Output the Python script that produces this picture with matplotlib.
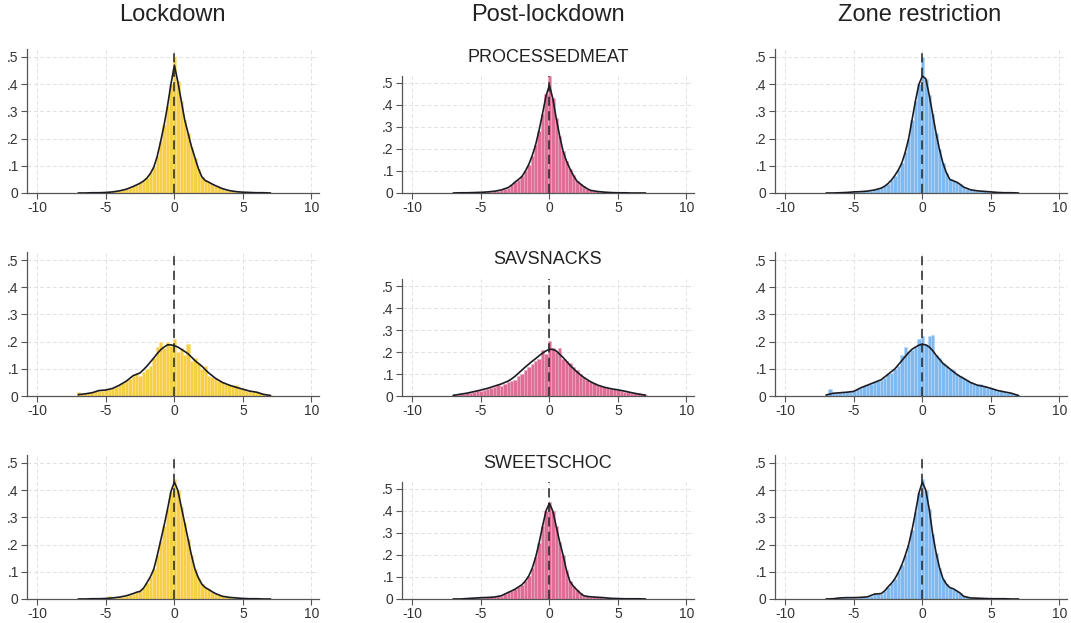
import numpy as np
import matplotlib.pyplot as plt

plt.rcParams['font.family'] = ['Liberation Sans', 'DejaVu Sans']

periods = ['Lockdown', 'Post-lockdown', 'Zone restriction']
products = ['PROCESSEDMEAT', 'SAVSNACKS', 'SWEETSCHOC']
fills = ['#f6cf45', '#dd6f96', '#7fb9f0']
edges = ['#fbe391', '#eeaac2', '#b8d8f7']

# histogram bins: 0.25 wide, centred on -7, -6.75, ..., 7
bin_mid = np.linspace(-7, 7, 57)
# density curve: every 0.5 in the tails, every 0.25 between -3 and 3
curve_x = np.concatenate([np.linspace(-7, -3.5, 8), np.linspace(-3, 3, 25), np.linspace(3.5, 7, 8)])

# ---- PROCESSEDMEAT ----
meat_lock_bars = [0, 0, 0, 0.001, 0.001, 0.001, 0.001, 0.002, 0.002, 0.003, 0.004, 0.006, 0.008, 0.011, 0.014, 0.019, 0.024,
                  0.03, 0.036, 0.044, 0.055, 0.072, 0.095, 0.135, 0.19, 0.25, 0.32, 0.40,
                  0.50,
                  0.41, 0.34, 0.27, 0.22, 0.17, 0.13, 0.09, 0.06, 0.046, 0.04, 0.033,
                  0.027, 0.021, 0.016, 0.012, 0.009, 0.007, 0.005, 0.004, 0.003, 0.002, 0.002, 0.001, 0.001, 0.001, 0.001, 0, 0]
meat_lock_curve = [0, 0, 0.001, 0.001, 0.002, 0.004, 0.008, 0.014,
                   0.024, 0.03, 0.036, 0.044, 0.055, 0.072, 0.095, 0.135, 0.19, 0.25, 0.32, 0.40, 0.47,
                   0.41, 0.34, 0.27, 0.22, 0.17, 0.13, 0.09, 0.06, 0.046, 0.04, 0.033, 0.027,
                   0.016, 0.009, 0.005, 0.003, 0.002, 0.001, 0.001, 0]

meat_post_bars = [0, 0, 0.001, 0.001, 0.001, 0.001, 0.002, 0.002, 0.003, 0.004, 0.005, 0.006, 0.008, 0.011, 0.014, 0.019, 0.025,
                  0.035, 0.05, 0.06, 0.076, 0.1, 0.128, 0.17, 0.22, 0.28, 0.36, 0.45,
                  0.53,
                  0.43, 0.34, 0.26, 0.19, 0.145, 0.11, 0.08, 0.055, 0.042, 0.03, 0.02,
                  0.012, 0.009, 0.007, 0.005, 0.004, 0.003, 0.002, 0.001, 0.001, 0.001, 0.001, 0, 0, 0, 0, 0, 0]
meat_post_curve = [0, 0.001, 0.001, 0.002, 0.003, 0.005, 0.008, 0.014,
                   0.025, 0.036, 0.05, 0.062, 0.075, 0.1, 0.13, 0.17, 0.22, 0.285, 0.36, 0.44, 0.49,
                   0.43, 0.34, 0.26, 0.19, 0.145, 0.11, 0.08, 0.055, 0.042, 0.03, 0.02, 0.012,
                   0.007, 0.004, 0.002, 0.001, 0.001, 0, 0, 0]

meat_zone_bars = [0, 0, 0, 0.001, 0.001, 0.002, 0.002, 0.003, 0.004, 0.005, 0.005, 0.006, 0.007, 0.009, 0.011, 0.014, 0.018,
                  0.025, 0.034, 0.047, 0.064, 0.084, 0.11, 0.15, 0.2, 0.27, 0.34, 0.40,
                  0.50,
                  0.42, 0.36, 0.29, 0.22, 0.16, 0.11, 0.075, 0.05, 0.045, 0.04, 0.032,
                  0.022, 0.016, 0.012, 0.01, 0.008, 0.007, 0.006, 0.005, 0.004, 0.003, 0.002, 0.001, 0.001, 0.001, 0.001, 0, 0]
meat_zone_curve = [0, 0, 0.001, 0.002, 0.004, 0.005, 0.007, 0.011,
                   0.018, 0.025, 0.035, 0.048, 0.065, 0.085, 0.11, 0.15, 0.2, 0.27, 0.34, 0.40, 0.43,
                   0.42, 0.36, 0.29, 0.22, 0.16, 0.11, 0.075, 0.05, 0.045, 0.04, 0.032, 0.022,
                   0.012, 0.008, 0.006, 0.004, 0.002, 0.001, 0.001, 0]

# ---- SAVSNACKS ----
snack_lock_bars = [0.015, 0.008, 0.01, 0.012, 0.013, 0.018, 0.02, 0.019, 0.022, 0.025, 0.028, 0.034, 0.04, 0.048, 0.055, 0.062, 0.072,
                   0.08, 0.072, 0.09, 0.1, 0.11, 0.14, 0.18, 0.2, 0.175, 0.2, 0.185,
                   0.21,
                   0.16, 0.175, 0.15, 0.19, 0.13, 0.14, 0.12, 0.1, 0.11, 0.075, 0.07,
                   0.065, 0.055, 0.05, 0.045, 0.04, 0.035, 0.04, 0.03, 0.025, 0.02, 0.02, 0.015, 0.013, 0.01, 0.006, 0.004, 0.002]
snack_lock_curve = [0.005, 0.008, 0.012, 0.02, 0.022, 0.028, 0.04, 0.055,
                    0.075, 0.08, 0.085, 0.097, 0.11, 0.125, 0.14, 0.156, 0.17, 0.18, 0.188, 0.188, 0.185,
                    0.18, 0.172, 0.164, 0.155, 0.143, 0.13, 0.12, 0.11, 0.097, 0.085, 0.075, 0.065,
                    0.05, 0.04, 0.032, 0.025, 0.018, 0.014, 0.006, 0.002]

snack_post_bars = [0.005, 0.006, 0.008, 0.01, 0.012, 0.015, 0.018, 0.022, 0.025, 0.028, 0.032, 0.035, 0.04, 0.05, 0.045, 0.055, 0.062,
                   0.07, 0.075, 0.09, 0.1, 0.12, 0.13, 0.145, 0.16, 0.17, 0.21, 0.19,
                   0.25,
                   0.22, 0.2, 0.22, 0.17, 0.16, 0.15, 0.13, 0.12, 0.1, 0.085, 0.075,
                   0.065, 0.06, 0.05, 0.045, 0.04, 0.035, 0.033, 0.03, 0.028, 0.025, 0.02, 0.018, 0.015, 0.012, 0.015, 0.008, 0.004]
snack_post_curve = [0.003, 0.008, 0.013, 0.02, 0.027, 0.035, 0.045, 0.055,
                    0.068, 0.078, 0.09, 0.104, 0.118, 0.132, 0.145, 0.158, 0.17, 0.183, 0.195, 0.205, 0.212,
                    0.212, 0.205, 0.19, 0.175, 0.158, 0.14, 0.125, 0.11, 0.097, 0.085, 0.075, 0.065,
                    0.05, 0.04, 0.033, 0.028, 0.022, 0.015, 0.009, 0.004]

snack_zone_bars = [0.008, 0.025, 0.012, 0.012, 0.012, 0.013, 0.014, 0.016, 0.018, 0.025, 0.03, 0.035, 0.04, 0.045, 0.05, 0.055, 0.06,
                   0.068, 0.08, 0.085, 0.1, 0.11, 0.15, 0.18, 0.16, 0.17, 0.18, 0.21,
                   0.22,
                   0.19, 0.22, 0.225, 0.15, 0.14, 0.12, 0.11, 0.1, 0.095, 0.08, 0.075,
                   0.065, 0.06, 0.05, 0.045, 0.04, 0.045, 0.035, 0.03, 0.03, 0.025, 0.02, 0.018, 0.015, 0.012, 0.01, 0.008, 0.005]
snack_zone_curve = [0.004, 0.01, 0.012, 0.014, 0.017, 0.03, 0.04, 0.05,
                    0.06, 0.07, 0.08, 0.09, 0.1, 0.115, 0.13, 0.145, 0.16, 0.172, 0.18, 0.187, 0.19,
                    0.188, 0.18, 0.167, 0.15, 0.135, 0.12, 0.11, 0.1, 0.09, 0.08, 0.072, 0.065,
                    0.05, 0.04, 0.035, 0.028, 0.02, 0.015, 0.01, 0.002]

# ---- SWEETSCHOC ----
sweet_lock_bars = [0, 0, 0, 0, 0.001, 0.001, 0.001, 0.001, 0.002, 0.01, 0.004, 0.005, 0.007, 0.009, 0.012, 0.016, 0.02,
                   0.025, 0.028, 0.04, 0.06, 0.082, 0.11, 0.16, 0.215, 0.27, 0.33, 0.395,
                   0.44,
                   0.40, 0.34, 0.28, 0.22, 0.16, 0.11, 0.078, 0.055, 0.042, 0.035, 0.027,
                   0.02, 0.014, 0.01, 0.008, 0.006, 0.005, 0.004, 0.003, 0.002, 0.001, 0.001, 0.001, 0.001, 0, 0, 0, 0]
sweet_lock_curve = [0, 0, 0.001, 0.001, 0.002, 0.004, 0.007, 0.012,
                    0.02, 0.025, 0.028, 0.04, 0.06, 0.082, 0.11, 0.16, 0.215, 0.27, 0.33, 0.395, 0.43,
                    0.40, 0.34, 0.28, 0.22, 0.16, 0.11, 0.078, 0.055, 0.042, 0.035, 0.027, 0.02,
                    0.01, 0.006, 0.004, 0.002, 0.001, 0.001, 0, 0]

sweet_post_bars = [0, 0, 0, 0.001, 0.002, 0.003, 0.004, 0.005, 0.006, 0.006, 0.007, 0.008, 0.009, 0.012, 0.015, 0.022, 0.03,
                   0.037, 0.045, 0.055, 0.065, 0.082, 0.105, 0.14, 0.19, 0.255, 0.33, 0.40,
                   0.44,
                   0.40, 0.33, 0.26, 0.2, 0.13, 0.08, 0.058, 0.042, 0.027, 0.015, 0.012,
                   0.01, 0.009, 0.008, 0.007, 0.006, 0.004, 0.003, 0.002, 0.002, 0.001, 0.001, 0.001, 0.001, 0.001, 0.001, 0, 0]
sweet_post_curve = [0, 0, 0.002, 0.004, 0.006, 0.007, 0.009, 0.015,
                    0.03, 0.037, 0.045, 0.055, 0.065, 0.082, 0.105, 0.14, 0.19, 0.255, 0.33, 0.40, 0.435,
                    0.40, 0.33, 0.26, 0.2, 0.13, 0.08, 0.058, 0.042, 0.027, 0.015, 0.012, 0.01,
                    0.008, 0.006, 0.003, 0.002, 0.001, 0.001, 0.001, 0]

sweet_zone_bars = [0, 0, 0.001, 0.002, 0.004, 0.005, 0.005, 0.005, 0.005, 0.005, 0.006, 0.006, 0.008, 0.012, 0.018, 0.019, 0.02,
                   0.03, 0.045, 0.058, 0.075, 0.098, 0.125, 0.16, 0.2, 0.255, 0.32, 0.39,
                   0.44,
                   0.40, 0.33, 0.24, 0.17, 0.115, 0.075, 0.055, 0.042, 0.038, 0.03, 0.022,
                   0.01, 0.006, 0.004, 0.003, 0.003, 0.002, 0.002, 0.002, 0.001, 0.001, 0.001, 0.001, 0.001, 0, 0, 0, 0]
sweet_zone_curve = [0, 0.001, 0.004, 0.005, 0.005, 0.006, 0.008, 0.018,
                    0.02, 0.03, 0.045, 0.058, 0.075, 0.098, 0.125, 0.16, 0.2, 0.255, 0.32, 0.39, 0.43,
                    0.40, 0.33, 0.24, 0.17, 0.115, 0.075, 0.055, 0.042, 0.038, 0.03, 0.022, 0.01,
                    0.004, 0.003, 0.002, 0.001, 0.001, 0.001, 0, 0]

bars = [[meat_lock_bars, meat_post_bars, meat_zone_bars],
        [snack_lock_bars, snack_post_bars, snack_zone_bars],
        [sweet_lock_bars, sweet_post_bars, sweet_zone_bars]]
curves = [[meat_lock_curve, meat_post_curve, meat_zone_curve],
          [snack_lock_curve, snack_post_curve, snack_zone_curve],
          [sweet_lock_curve, sweet_post_curve, sweet_zone_curve]]

W, H = 1071, 623
fig = plt.figure(figsize=(W / 100, H / 100), dpi=100)

col_left = [27, 402, 775]
row_base = [193, 396, 599]
ax_w = 292
ytop = 0.53
px_per_unit = [272, 220, 272]  # middle column is shorter (room for product title)
title_y = [57, 260, 464]

for r in range(3):
    for c in range(3):
        h = ytop * px_per_unit[c]
        ax = fig.add_axes([col_left[c] / W, 1 - row_base[r] / H, ax_w / W, h / H])
        ax.bar(bin_mid, bars[r][c], width=0.25, color=fills[c],
               edgecolor=edges[c], linewidth=0.4, zorder=2)
        ax.plot(curve_x, curves[r][c], color='#1c1c24', lw=1.2, zorder=3)
        ax.axvline(0, color='#222222', lw=1.1, dashes=(6, 3.5), zorder=4)
        ax.set_xlim(-10.75, 10.55)
        ax.set_ylim(0, ytop)
        ax.set_xticks([-10, -5, 0, 5, 10])
        ax.set_xticklabels(['-10', '-5', '0', '5', '10'])
        ax.set_yticks([0, 0.1, 0.2, 0.3, 0.4, 0.5])
        ax.set_yticklabels(['0', '.1', '.2', '.3', '.4', '.5'])
        ax.grid(True, color='#e2e2e2', lw=0.7, dashes=(4, 2.5), zorder=0)
        ax.set_axisbelow(True)
        for s in ['top', 'right']:
            ax.spines[s].set_visible(False)
        for s in ['left', 'bottom']:
            ax.spines[s].set_color('#555555')
            ax.spines[s].set_linewidth(0.9)
        ax.tick_params(direction='out', length=4, width=0.8, color='#555555',
                       labelsize=10, labelcolor='#333333', pad=2)
        if c == 1:
            fig.text(548 / W, 1 - title_y[r] / H, products[r], ha='center', va='center',
                     fontsize=13, color='#222222')

for c, name in enumerate(periods):
    fig.text([172, 548, 920][c] / W, 1 - 15 / H, name, ha='center', va='center',
             fontsize=17, color='#222222')

fig.savefig('out.png', dpi=100, facecolor='white')
